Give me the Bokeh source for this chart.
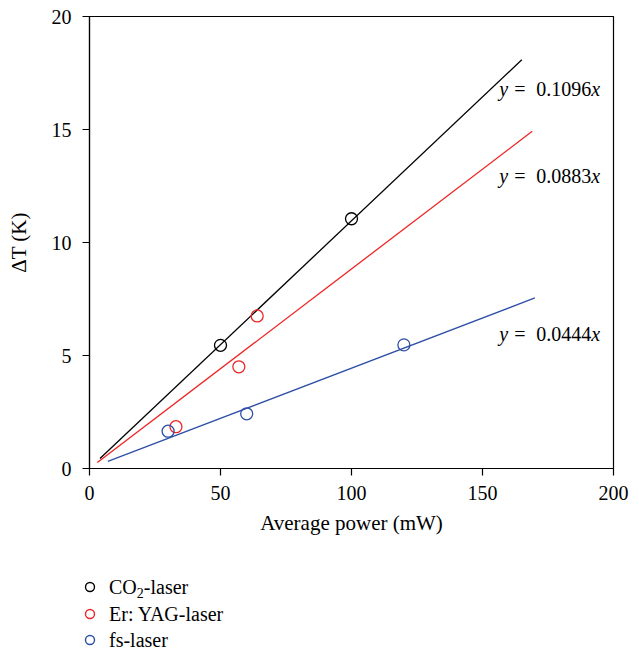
from bokeh.plotting import figure
from bokeh.models import Range1d, FixedTicker, ColumnDataSource, Div
from bokeh.layouts import column
from bokeh.embed import file_html
from bokeh.resources import INLINE
from bokeh.core.properties import value

# ---- data ----
series = ["CO\u2082-laser", "Er: YAG-laser", "fs-laser"]
colors = ["#000000", "#ee2424", "#2f4fa6"]
co2_x = [50, 100]
co2_y = [5.45, 11.05]
er_x = [33, 57, 64]
er_y = [1.85, 4.5, 6.75]
fs_x = [30, 60, 120]
fs_y = [1.65, 2.42, 5.47]
slopes = [0.1096, 0.0883, 0.0444]
fit_x_start = [4, 3, 7]
fit_x_end = [165, 169, 170]
eq_numbers = ["0.1096", "0.0883", "0.0444"]
eq_x = [156, 156, 156]
eq_y = [16.8, 12.95, 5.95]
x_ticks = [0, 50, 100, 150, 200]
y_ticks = [0, 5, 10, 15, 20]

FONT = "Liberation Serif"

p = figure(width=639, height=540, output_backend="svg", toolbar_location=None,
           x_range=Range1d(0, 200), y_range=Range1d(0, 20),
           min_border_left=89, min_border_right=26, min_border_top=16, min_border_bottom=72)
p.background_fill_color = "white"
p.border_fill_color = "white"
p.outline_line_color = "black"
p.outline_line_width = 1.2
p.xgrid.visible = False
p.ygrid.visible = False

for ax in (p.xaxis[0], p.yaxis[0]):
    ax.axis_line_color = "black"
    ax.axis_line_width = 1.2
    ax.major_tick_line_color = "black"
    ax.major_tick_line_width = 1.2
    ax.major_tick_out = 7
    ax.major_tick_in = 0
    ax.minor_tick_line_color = None
    ax.major_label_text_font = FONT
    ax.major_label_text_font_size = "20px"
    ax.major_label_text_color = "black"
    ax.axis_label_text_font = FONT
    ax.axis_label_text_font_style = "normal"
    ax.axis_label_text_color = "black"

p.xaxis.ticker = FixedTicker(ticks=x_ticks)
p.yaxis.ticker = FixedTicker(ticks=y_ticks)
p.xaxis.major_label_standoff = 10
p.yaxis.major_label_standoff = 11
p.xaxis.axis_label = "Average power (mW)"
p.xaxis.axis_label_text_font_size = "21px"
p.xaxis.axis_label_standoff = 8
p.yaxis.axis_label = "\u0394T (K)"
p.yaxis.axis_label_text_font_size = "21px"
p.yaxis.axis_label_standoff = 18

# fit lines
for i in range(3):
    xs = [fit_x_start[i], fit_x_end[i]]
    ys = [slopes[i] * v for v in xs]
    p.line(xs, ys, line_color=colors[i], line_width=1.3)

point_sets = [(co2_x, co2_y), (er_x, er_y), (fs_x, fs_y)]
for i in range(3):
    px, py = point_sets[i]
    p.scatter(px, py, marker="circle", size=12, fill_color=None,
              line_color=colors[i], line_width=1.3)

# equations
src = ColumnDataSource(dict(x=eq_x, y=eq_y, num=eq_numbers,
                            yl=["y"] * 3, eq=["="] * 3, xl=["x"] * 3))
common = dict(x="x", y="y", source=src, text_font=value(FONT), text_font_size="20px",
              text_color="black", text_baseline="middle", text_align="left")
p.text(text="yl", text_font_style="italic", x_offset=1, **common)
p.text(text="eq", x_offset=16, **common)
p.text(text="num", x_offset=38, **common)
p.text(text="xl", text_font_style="italic", x_offset=93, **common)

# legend (inline SVG block below the plot)
row_centers = [47, 74, 100]
parts = []
for name, col, cy in zip(series, colors, row_centers):
    label = name.replace("\u2082", '</tspan><tspan font-size="14" dy="4">2</tspan><tspan dy="-4">')
    parts.append(
        f'<circle cx="90" cy="{cy}" r="4.5" fill="none" stroke="{col}" stroke-width="1.4"/>'
        f'<text x="109" y="{cy + 7}" font-family="{FONT}, serif" font-size="20" fill="#000" '
        f'style="font-family:\'{FONT}\', serif;font-size:20px;"><tspan>{label}</tspan></text>'
    )
svg = ('<svg xmlns="http://www.w3.org/2000/svg" width="639" height="112" '
       'style="display:block;">' + "".join(parts) + '</svg>')
legend_div = Div(text=svg, width=639, height=112, margin=0)

layout = column(p, legend_div, spacing=0)
open("out.html", "w").write(file_html(layout, INLINE))
